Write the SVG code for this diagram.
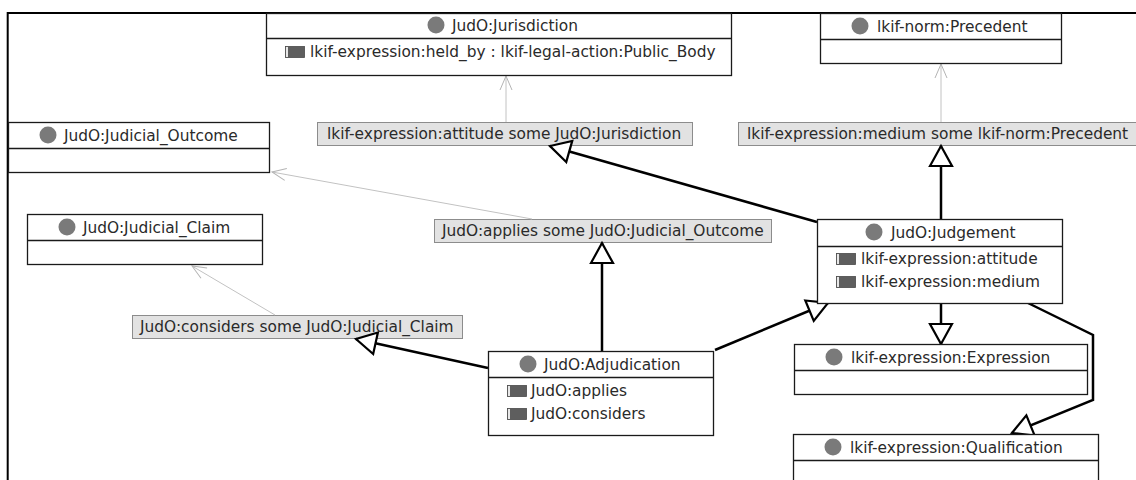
<svg xmlns="http://www.w3.org/2000/svg" width="1136" height="480" viewBox="0 0 1136 480">
  <defs>
    <!-- hollow triangle for subclass edges -->
    <marker id="tri" markerUnits="userSpaceOnUse" markerWidth="24" markerHeight="26" viewBox="0 0 24 26" refX="21" refY="12" orient="auto" overflow="visible">
      <path d="M1,1 L21,12 L1,23 Z" fill="#fff" stroke="#000" stroke-width="2.2" stroke-linejoin="miter"/>
    </marker>
    <!-- open arrow for restriction filler edges -->
    <marker id="open" markerUnits="userSpaceOnUse" markerWidth="16" markerHeight="14" viewBox="0 0 16 14" refX="15" refY="7" orient="auto" overflow="visible">
      <path d="M1,1 L15,7 L1,13" fill="none" stroke="#b4b4b4" stroke-width="1"/>
    </marker>
  </defs>
  <style>
    text { font-family: "DejaVu Sans", "Liberation Sans", sans-serif; font-size: 15.4px; fill: #2a2a2a; }
    .box { fill: #fff; stroke: #1a1a1a; stroke-width: 1.3; }
    .div { stroke: #1a1a1a; stroke-width: 1.3; }
    .lbl { fill: #e2e2e2; stroke: #8c8c8c; stroke-width: 1; }
    .dot { fill: #7a7a7a; }
    .attr { fill: #5e5e5e; stroke: #4a4a4a; stroke-width: 0.8; }
    .attr-edge { fill: #e8e8e8; }
    .sub { fill: none; stroke: #000; stroke-width: 2.5; marker-end: url(#tri); }
    .ref { fill: none; stroke: #c2c2c2; stroke-width: 1; marker-end: url(#open); }
  </style>
  <rect width="1136" height="480" fill="#fff"/>
  <!-- canvas frame -->
  <path d="M7.7,480 V13 H1136" fill="none" stroke="#000" stroke-width="2"/>

  <!-- restriction labels -->
  <g id="r-attitude">
    <rect class="lbl" x="317.5" y="122.5" width="375" height="23"/>
    <text x="327" y="139">lkif-expression:attitude some JudO:Jurisdiction</text>
  </g>
  <g id="r-medium">
    <rect class="lbl" x="738.5" y="122.5" width="410" height="23"/>
    <text x="747" y="139">lkif-expression:medium some lkif-norm:Precedent</text>
  </g>
  <g id="r-applies">
    <rect class="lbl" x="434.5" y="219.5" width="337" height="23"/>
    <text x="442" y="236">JudO:applies some JudO:Judicial_Outcome</text>
  </g>
  <g id="r-considers">
    <rect class="lbl" x="132.5" y="315.5" width="330" height="23"/>
    <text x="140" y="332">JudO:considers some JudO:Judicial_Claim</text>
  </g>

  <!-- connectors -->
  <g id="connectors">
    <line class="ref" x1="506" y1="122" x2="506" y2="76"/>
    <line class="ref" x1="941" y1="122" x2="941" y2="64"/>
    <line class="ref" x1="532" y1="219" x2="272" y2="172"/>
    <line class="ref" x1="275" y1="315" x2="192" y2="266"/>
    <line class="sub" x1="817" y1="222" x2="550" y2="146"/>
    <line class="sub" x1="941" y1="219" x2="941" y2="146"/>
    <line class="sub" x1="602" y1="351" x2="602" y2="243"/>
    <line class="sub" x1="488" y1="368" x2="356" y2="339"/>
    <line class="sub" x1="715" y1="350" x2="828" y2="303"/>
    <line class="sub" x1="941" y1="303" x2="941" y2="344"/>
    <polyline class="sub" points="1028,303 1093,335 1093,400 1012,433"/>
  </g>

  <!-- classes -->
  <g id="c-jurisdiction">
    <rect class="box" x="266.5" y="13.5" width="465" height="62"/>
    <line class="div" x1="266.5" y1="38.5" x2="731.5" y2="38.5"/>
    <circle class="dot" cx="436" cy="25" r="8.5"/>
    <text x="452" y="31">JudO:Jurisdiction</text>
    <rect class="attr" x="285.5" y="46.5" width="19" height="11"/>
    <rect class="attr-edge" x="286" y="47" width="2" height="10"/>
    <text x="310" y="57">lkif-expression:held_by : lkif-legal-action:Public_Body</text>
  </g>
  <g id="c-precedent">
    <rect class="box" x="820.5" y="13.5" width="241" height="50"/>
    <line class="div" x1="820.5" y1="39.5" x2="1061.5" y2="39.5"/>
    <circle class="dot" cx="860" cy="26" r="8.5"/>
    <text x="877" y="32">lkif-norm:Precedent</text>
  </g>
  <g id="c-judicial-outcome">
    <rect class="box" x="8.5" y="122.5" width="261" height="50"/>
    <line class="div" x1="8.5" y1="148.5" x2="269.5" y2="148.5"/>
    <circle class="dot" cx="48" cy="135" r="8.5"/>
    <text x="64" y="141">JudO:Judicial_Outcome</text>
  </g>
  <g id="c-judicial-claim">
    <rect class="box" x="27.5" y="214.5" width="235" height="50"/>
    <line class="div" x1="27.5" y1="240.5" x2="262.5" y2="240.5"/>
    <circle class="dot" cx="67" cy="227" r="8.5"/>
    <text x="83" y="233">JudO:Judicial_Claim</text>
  </g>
  <g id="c-judgement">
    <rect class="box" x="817.5" y="219.5" width="245" height="84"/>
    <line class="div" x1="817.5" y1="246.5" x2="1062.5" y2="246.5"/>
    <circle class="dot" cx="874" cy="232" r="8.5"/>
    <text x="891" y="238">JudO:Judgement</text>
    <rect class="attr" x="836.5" y="253.5" width="19" height="11"/>
    <rect class="attr-edge" x="837" y="254" width="2" height="10"/>
    <text x="861" y="264">lkif-expression:attitude</text>
    <rect class="attr" x="836.5" y="276.5" width="19" height="11"/>
    <rect class="attr-edge" x="837" y="277" width="2" height="10"/>
    <text x="861" y="287">lkif-expression:medium</text>
  </g>
  <g id="c-adjudication">
    <rect class="box" x="488.5" y="351.5" width="225" height="84"/>
    <line class="div" x1="488.5" y1="377.5" x2="713.5" y2="377.5"/>
    <circle class="dot" cx="528" cy="364" r="8.5"/>
    <text x="544" y="370">JudO:Adjudication</text>
    <rect class="attr" x="507.5" y="385.5" width="19" height="11"/>
    <rect class="attr-edge" x="508" y="386" width="2" height="10"/>
    <text x="531" y="396">JudO:applies</text>
    <rect class="attr" x="507.5" y="408.5" width="19" height="11"/>
    <rect class="attr-edge" x="508" y="409" width="2" height="10"/>
    <text x="531" y="419">JudO:considers</text>
  </g>
  <g id="c-expression">
    <rect class="box" x="794.5" y="344.5" width="293" height="50"/>
    <line class="div" x1="794.5" y1="370.5" x2="1087.5" y2="370.5"/>
    <circle class="dot" cx="834" cy="357" r="8.5"/>
    <text x="851" y="363">lkif-expression:Expression</text>
  </g>
  <g id="c-qualification">
    <rect class="box" x="793.5" y="434.5" width="305" height="60"/>
    <line class="div" x1="793.5" y1="460.5" x2="1098.5" y2="460.5"/>
    <circle class="dot" cx="833" cy="447" r="8.5"/>
    <text x="850" y="453">lkif-expression:Qualification</text>
  </g>
</svg>
